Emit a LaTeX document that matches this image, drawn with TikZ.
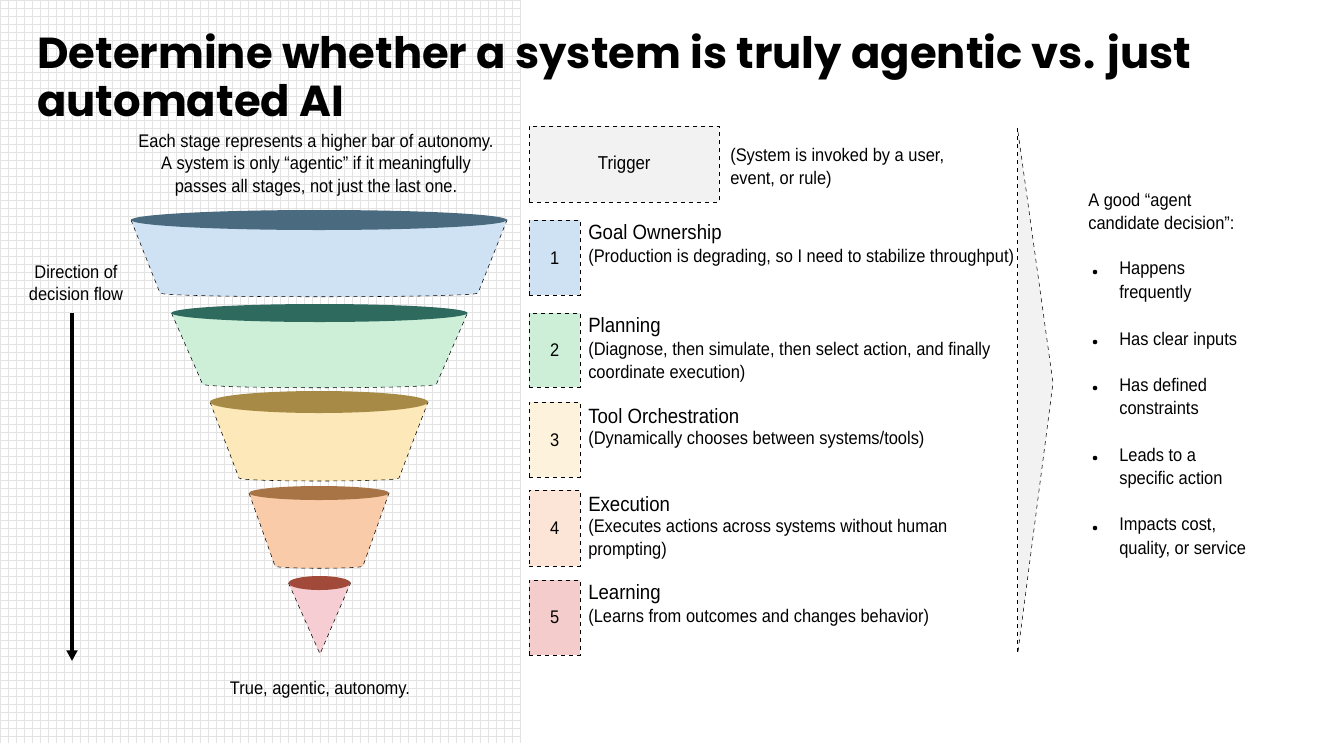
\documentclass[tikz,border=0pt]{standalone}
\usepackage{fontspec}
\setmainfont{Liberation Sans}
\newfontfamily\cond[FakeStretch=0.9]{Liberation Sans}
\newfontfamily\ttl{Poppins}
\usetikzlibrary{arrows.meta}
\definecolor{c1}{HTML}{CFE2F3}\definecolor{t1}{HTML}{4A6A80}
\definecolor{c2}{HTML}{CDEFD8}\definecolor{t2}{HTML}{2E6B5E}
\definecolor{c3}{HTML}{FCE8B8}\definecolor{t3}{HTML}{A68A45}
\definecolor{c4}{HTML}{F9CBA9}\definecolor{t4}{HTML}{A87445}
\definecolor{c5}{HTML}{F5CDD3}\definecolor{t5}{HTML}{A24A3A}
\definecolor{b3}{HTML}{FDF3DC}\definecolor{b4}{HTML}{FCE4D6}\definecolor{b5}{HTML}{F4CCCC}
\definecolor{lg}{HTML}{F2F2F2}
\newcommand{\funstage}[9]{%
 \path[fill=#8,draw=black,dashed,thin] (#1-#3,#2) -- (#1-#6,#5) .. controls (#1-#6,#5+#7) and (#1+#6,#5+#7) .. (#1+#6,#5) -- (#1+#3,#2) -- cycle;
 \fill[#9] (#1,#2) ellipse [x radius=#3, y radius=#4];}
\begin{document}
\begin{tikzpicture}[x=0.75pt,y=-0.75pt,
 box/.style={draw=black,dashed,thin,minimum width=51*0.75pt,inner sep=0pt,font=\cond\fontsize{13.7}{16}\selectfont},
 ttlt/.style={anchor=west,font=\cond\fontsize{15.5}{18}\selectfont,inner sep=0pt},
 sub/.style={anchor=north west,align=left,font=\cond\fontsize{13.7}{17.5}\selectfont,inner sep=0pt},
 rt/.style={anchor=north west,align=left,font=\cond\fontsize{13.7}{17.5}\selectfont,inner sep=0pt},
 lt/.style={align=center,font=\cond\fontsize{13.7}{17}\selectfont,inner sep=0pt}]
\useasboundingbox (0,0) rectangle (1330,743);
\fill[white] (0,0) rectangle (1330,743);
\foreach \gx in {0,8,...,520} \draw[gray!22,line width=0.5pt] (\gx,0) -- (\gx,743);
\foreach \gy in {0,8,...,743} \draw[gray!22,line width=0.5pt] (0,\gy) -- (520,\gy);
\node[anchor=north west,align=left,font=\ttl\bfseries\fontsize{32.5}{36}\selectfont,inner sep=0pt] (title) at (37,34) {Determine whether a system is truly agentic vs. just\\automated AI};
\node[lt] (hdr) at (316,165) {Each stage represents a higher bar of autonomy.\\A system is only “agentic” if it meaningfully\\passes all stages, not just the last one.};
\funstage{319}{220}{188}{10}{293}{159}{5}{c1}{t1}
\funstage{319.5}{313}{148}{9}{384}{117}{5}{c2}{t2}
\funstage{319}{402}{109}{11}{478}{80}{4}{c3}{t3}
\funstage{319}{493}{70}{7}{566}{44}{3}{c4}{t4}
\path[fill=c5,draw=black,dashed,thin] (288.5,583) -- (320,654) -- (350.5,583) -- cycle;
\fill[t5] (319.5,583) ellipse [x radius=31, y radius=7];
\node[lt] (dir) at (76,283) {Direction of\\decision flow};
\coordinate (a1) at (72,313); \coordinate (a2) at (72,661);
\draw[line width=3pt,-{Triangle[length=8pt,width=8pt]}] (a1) -- (a2);
\node[lt] (true) at (320,690) {True, agentic, autonomy.};
% boxes
\node[box,fill=lg,minimum width=190*0.75pt,minimum height=76*0.75pt,anchor=north west] (trig) at (529,126) {\fontsize{14}{16}\selectfont Trigger};
\node[sub] (trigt) at (730,148) {(System is invoked by a user,\\event, or rule)};
\foreach \n/\y/\h/\c/\t/\s in {1/220/75/c1/Goal Ownership/(Production is degrading{,} so I need to stabilize throughput),
 2/313/74/c2/Planning/{(Diagnose, then simulate, then select action, and finally\\coordinate execution)},
 3/402/75/b3/Tool Orchestration/{(Dynamically chooses between systems/tools)},
 4/490/76/b4/Execution/{(Executes actions across systems without human\\prompting)},
 5/580/75/b5/Learning/(Learns from outcomes and changes behavior)}{
 \node[box,fill=\c,minimum height=\h*0.75pt,anchor=north west] (b\n) at (529,\y) {\n};
 \node[ttlt] (bt\n) at (588,\y+14) {\t};
 \node[sub] (bs\n) at (588,\y+29) {\s};
}
% chevron
\coordinate (v1) at (1017,128); \coordinate (v2) at (1017,655);
\coordinate (p1) at (1018,132); \coordinate (p2) at (1053,383); \coordinate (p3) at (1018,652);
\fill[lg] (p1) -- (p2) -- (p3) -- cycle;
\draw[dashed,thin] (p1) -- (p2) -- (p3);
\draw[dashed,thin] (v1) -- (v2);
\node[rt] (good) at (1088,193) {A good “agent\\candidate decision”:};
\foreach \i/\y/\s in {1/262/{Happens\\frequently},2/332/{Has clear inputs},3/378/{Has defined\\constraints},4/448/{Leads to a\\specific action},5/518/{Impacts cost,\\quality, or service}}{
 \node[rt] (it\i) at (1119,\y) {\s};
 \fill (1095,\y+10) circle (2.3);
}
\end{tikzpicture}
\end{document}
